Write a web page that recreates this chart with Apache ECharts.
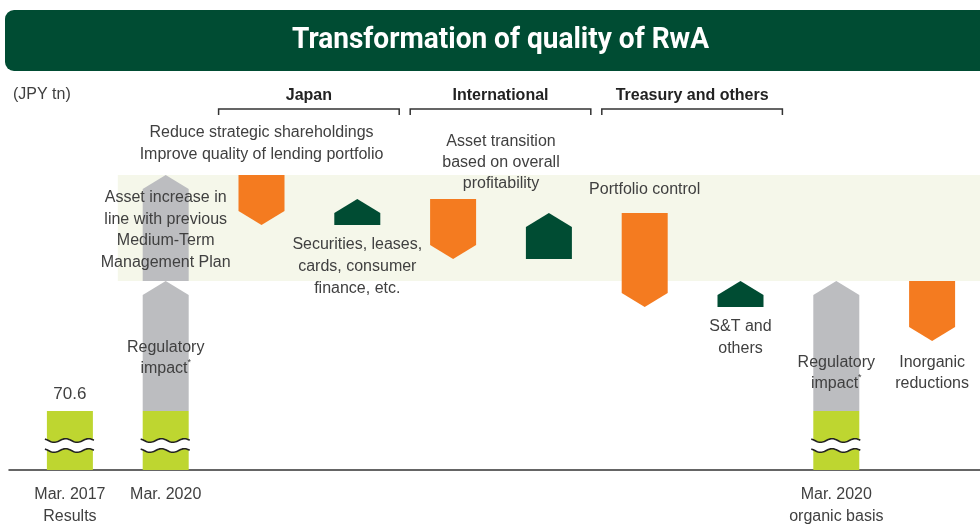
<!DOCTYPE html>
<html><head><meta charset="utf-8">
<script src="https://cdn.jsdelivr.net/npm/echarts@6/dist/echarts.min.js"></script>
<style>html,body{margin:0;padding:0;background:#fff}#c{width:980px;height:524px}</style>
</head><body><div id="c"></div>
<script>
// ---- data (JPY tn, conceptual levels) ----
const categories = ['Mar. 2017 Results','Mar. 2020','Japan reduce','Japan increase','International reduce','International increase','Treasury reduce','Treasury increase','Mar. 2020 organic basis','Inorganic reductions'];
const axisLabels = ['Mar. 2017\nResults','Mar. 2020','','','','','','','Mar. 2020\norganic basis',''];
const baseCats = [0, 1, 8];
const baseValues = [70.6, 70.6, 70.6];
const arrowCats = [1, 1, 2, 3, 4, 5, 6, 7, 8, 9];
const arrowFrom = [70.6, 77.1, 82.4, 79.9, 81.2, 78.2, 80.5, 75.8, 70.6, 77.1];
const arrowTo   = [77.1, 82.4, 79.9, 81.2, 78.2, 80.5, 75.8, 77.1, 77.1, 74.1];
const arrowKinds = ['regulatory','plan','reduce','increase','reduce','increase','reduce','increase','regulatory','reduce'];
const groupNames = ['Japan','International','Treasury and others'];
const groupFrom = [2, 4, 6];
const groupTo = [3, 5, 7];
const bandCats = [1, 9];
const bandValues = [77.1, 82.4];
const noteCats = [1, 2, 3, 4.5, 6, 7, 1, 8, 9, 0];
const noteTexts = [
  'Asset increase in\nline with previous\nMedium-Term\nManagement Plan',
  'Reduce strategic shareholdings\nImprove quality of lending portfolio',
  'Securities, leases,\ncards, consumer\nfinance, etc.',
  'Asset transition\nbased on overall\nprofitability',
  'Portfolio control',
  'S&T and\nothers',
  'Regulatory\nimpact{s|*}',
  'Regulatory\nimpact{s|*}',
  'Inorganic\nreductions',
  '70.6'
];
const unitLabel = '(JPY tn)';
const titleText = 'Transformation of quality of RwA';

// ---- layout / style ----
const noteTops = [187, 122, 234, 131, 179, 316, 337, 352, 352, 383];
const noteLH = [21.5, 22, 22, 21, 22, 22, 21, 21, 21, 22];
const C = {lime:'#bed630', gray:'#bcbdc0', orange:'#f47b20', dark:'#004c33', band:'#f5f7ea', text:'#404040'};
const kindColor = {regulatory:C.gray, plan:C.gray, reduce:C.orange, increase:C.dark};
const FONT = 'Liberation Sans';
const BAR_W = 46, HEAD = 14;

// measure title to get a condensed look
const TITLE_FONT = 'bold 30px Roboto';
const mctx = document.createElement('canvas').getContext('2d');
mctx.font = TITLE_FONT;
const titleScale = Math.min(1, 417 / mctx.measureText(titleText).width);

const chart = echarts.init(document.getElementById('c'));

function waveLine(x0, x1, yc, amp, per){
  const pts=[];
  for(let x=x0;x<=x1+0.01;x+=1){pts.push([x, yc - amp*Math.sin(2*Math.PI*(x-x0)/per + 2.2)]);}
  return pts;
}

chart.setOption({
  animation:false,
  graphic:[
    {type:'rect', z:-10, shape:{x:5,y:10,width:1000,height:61,r:9}, style:{fill:C.dark}},
    {type:'text', z:10, x:500.5, y:40, scaleX:titleScale, originX:0, originY:0,
     style:{text:titleText, font:TITLE_FONT, fill:'#fff', align:'center', verticalAlign:'middle'}}
  ],
  title:[{text:unitLabel, left:8, top:82, textStyle:{color:C.text, fontFamily:FONT, fontWeight:'normal', fontSize:16}}],
  grid:[{left:22, right:0, top:170, bottom:54, outerBoundsMode:'none', containLabel:false},
        {left:9, right:0, top:170, bottom:54, outerBoundsMode:'none', containLabel:false}],
  xAxis:[{type:'category', gridIndex:0, data:categories, boundaryGap:true,
          axisLine:{show:false}, axisTick:{show:false},
          axisLabel:{interval:0, margin:14, color:C.text, fontFamily:FONT, fontSize:16, lineHeight:22,
                     formatter:(v,i)=>axisLabels[i]}},
         {type:'value', gridIndex:1, min:0, max:1, axisLine:{show:true, lineStyle:{color:'#333', width:1.5}},
          axisTick:{show:false}, axisLabel:{show:false}, splitLine:{show:false}}],
  yAxis:[{type:'value', gridIndex:0, min:67.65, max:82.65, show:false},
         {type:'value', gridIndex:1, min:0, max:1, show:false}],
  series:[
    { // highlighted band
      type:'custom', z:1, xAxisIndex:0, yAxisIndex:0,
      data:[[bandCats[0], bandCats[1], bandValues[0], bandValues[1]]],
      renderItem:(p, api)=>{
        const half = api.size([1,0])[0]/2;
        const a = api.coord([api.value(0), api.value(2)]);
        const b = api.coord([api.value(1), api.value(3)]);
        return {type:'rect', shape:{x:a[0]-half, y:b[1], width:b[0]+half-(a[0]-half), height:a[1]-b[1]}, style:{fill:C.band}};
      }
    },
    { // arrows
      type:'custom', z:2, xAxisIndex:0, yAxisIndex:0,
      data: arrowCats.map((c,i)=>[c, arrowFrom[i], arrowTo[i], i]),
      renderItem:(p, api)=>{
        const f = api.coord([api.value(0), api.value(1)]);
        const t = api.coord([api.value(0), api.value(2)]);
        const x = f[0], hw = BAR_W/2, y0 = f[1], y1 = t[1];
        const kind = arrowKinds[api.value(3)];
        let pts;
        if (y1 < y0) pts = [[x-hw,y0],[x-hw,y1+HEAD],[x,y1],[x+hw,y1+HEAD],[x+hw,y0]];
        else pts = [[x-hw,y0],[x+hw,y0],[x+hw,y1-HEAD],[x,y1],[x-hw,y1-HEAD]];
        return {type:'polygon', shape:{points:pts}, style:{fill:kindColor[kind]}};
      }
    },
    { // broken base bars
      type:'custom', z:3, xAxisIndex:0, yAxisIndex:0,
      data: baseCats.map((c,i)=>[c, baseValues[i]]),
      renderItem:(p, api)=>{
        const top = api.coord([api.value(0), api.value(1)]);
        const bot = api.coord([api.value(0), 67.65]);
        const x = top[0], hw = BAR_W/2;
        const yb = bot[1];
        const w1 = waveLine(x-hw-2, x+hw+1, yb-29.5, 1.8, 23);
        const w2 = waveLine(x-hw-2, x+hw+1, yb-19.5, 1.8, 23);
        const fillPts = w1.concat(w2.slice().reverse());
        return {type:'group', children:[
          {type:'rect', shape:{x:x-hw, y:top[1], width:BAR_W, height:yb-top[1]}, style:{fill:C.lime}},
          {type:'polygon', shape:{points:fillPts}, style:{fill:'#fff'}},
          {type:'polyline', shape:{points:w1}, style:{stroke:'#222', lineWidth:1.6, fill:null}},
          {type:'polyline', shape:{points:w2}, style:{stroke:'#222', lineWidth:1.6, fill:null}}
        ]};
      }
    },
    { // group brackets
      type:'custom', z:5, xAxisIndex:0, yAxisIndex:0,
      data: groupFrom.map((g,i)=>[g, groupTo[i], i]),
      renderItem:(p, api)=>{
        const half = api.size([1,0])[0]/2;
        const x0 = api.coord([api.value(0), 80])[0]-half+5;
        const x1 = api.coord([api.value(1), 80])[0]+half-6;
        return {type:'group', children:[
          {type:'polyline', shape:{points:[[x0,115],[x0,109],[x1,109],[x1,115]]}, style:{stroke:'#333', lineWidth:1.5, fill:null}},
          {type:'text', x:(x0+x1)/2, y:96, style:{text:groupNames[api.value(2)], align:'center', verticalAlign:'middle',
            fill:'#222', font:'bold 16px "'+FONT+'"'}}
        ]};
      }
    },
    { // notes
      type:'custom', z:6, xAxisIndex:0, yAxisIndex:0,
      data: noteCats.map((c,i)=>[c, i]),
      renderItem:(p, api)=>{
        const c = api.value(0), i = api.value(1);
        const fl = Math.floor(c);
        const x = api.coord([fl, 80])[0] + (c-fl)*api.size([1,0])[0];
        return {type:'text', x:x, y:noteTops[i], style:{text:noteTexts[i], align:'center', verticalAlign:'top',
          fill:C.text, fontFamily:FONT, fontSize: i===9?17:16, lineHeight:noteLH[i],
          rich:{s:{fontSize:9, verticalAlign:'top', fill:C.text, fontFamily:FONT}}}};
      }
    }
  ]
});
</script></body></html>
